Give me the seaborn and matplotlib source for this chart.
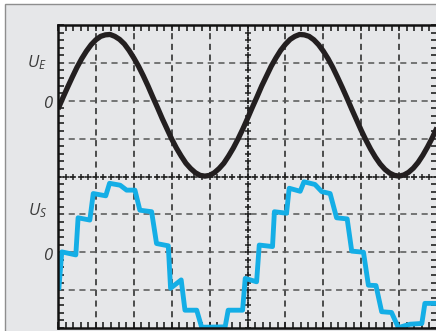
import numpy as np
import pandas as pd
import matplotlib
matplotlib.use("Agg")
import matplotlib.pyplot as plt
from matplotlib.patches import Rectangle
from matplotlib.ticker import MultipleLocator
import seaborn as sns

# screen grid: 10 x 8 divisions, x/y in divisions
# U_E read every 1/8 division
ue_x = np.arange(81) * 0.125
ue_y = [5.78, 6.07, 6.35, 6.62, 6.88, 7.11, 7.31, 7.48, 7.61, 7.70, 7.74, 7.75, 7.70, 7.62,
        7.50, 7.33, 7.13, 6.91, 6.66, 6.39, 6.10, 5.82, 5.53, 5.26, 4.99, 4.75, 4.54, 4.35,
        4.21, 4.10, 4.03, 4.01, 4.03, 4.10, 4.21, 4.35, 4.54, 4.75, 4.99, 5.25, 5.53, 5.82,
        6.10, 6.39, 6.65, 6.91, 7.13, 7.33, 7.49, 7.62, 7.70, 7.75, 7.74, 7.70, 7.61, 7.48,
        7.31, 7.11, 6.88, 6.62, 6.35, 6.07, 5.78, 5.50, 5.22, 4.96, 4.72, 4.51, 4.33, 4.19,
        4.09, 4.03, 4.01, 4.04, 4.11, 4.22, 4.37, 4.56, 4.78, 5.02, 5.29]

us_x = [0.02, 0.10, 0.47, 0.53, 0.84, 0.93, 1.26, 1.36, 1.64, 1.81, 2.03, 2.16, 2.47, 2.60,
        2.91, 2.97, 3.25, 3.35, 3.66, 3.79, 4.41, 4.49, 4.87, 4.94, 5.24, 5.31, 5.66, 5.71,
        6.03, 6.10, 6.39, 6.49, 6.78, 6.96, 7.18, 7.35, 7.63, 7.75, 8.06, 8.19, 8.39, 8.54,
        8.80, 8.98, 9.29, 9.60, 9.68, 10.0]
us_y = [1.00, 2.01, 1.93, 2.91, 2.85, 3.55, 3.49, 3.82, 3.77, 3.64, 3.64, 3.11, 3.07, 2.23,
        2.17, 1.05, 1.27, 0.47, 0.47, 0.02, 0.03, 0.47, 0.47, 1.31, 1.22, 2.19, 2.15, 3.07,
        3.03, 3.69, 3.61, 3.86, 3.79, 3.60, 3.55, 2.91, 2.88, 2.03, 2.00, 1.13, 1.12, 0.43,
        0.41, 0.01, 0.10, 0.12, 0.65, 0.65]

labels = [r"$U_E$", "0", r"$U_S$", "0"]
label_y = [6.89, 5.80, 2.98, 1.79]

sns.set_style("white")
plt.rcParams["mathtext.fontset"] = "custom"
plt.rcParams["mathtext.it"] = "Open Sans:italic"
plt.rcParams["mathtext.rm"] = "Open Sans"

bg = "#e6e7e9"
fig = plt.figure(figsize=(4.36, 3.31), dpi=100)
fig.patch.set_facecolor("white")
frame = Rectangle((5 / 436, -0.1), 1.2, (331 - 4) / 331 + 0.1, transform=fig.transFigure,
                  facecolor=bg, edgecolor="#8e8e8e", lw=1.0, zorder=-5)
fig.add_artist(frame)

ax = fig.add_axes([58 / 436, 3 / 331, 379 / 436, 303 / 331])
ax.set_zorder(2)
ax.set_facecolor(bg)
ax.set_xlim(0, 10)
ax.set_ylim(0, 8)

# dashed graticule
for x in range(1, 10):
    ax.axvline(x, color="#222222", lw=1.1, ls=(0, (4, 3)), zorder=1)
for y in range(1, 8):
    ax.axhline(y, color="#555555", lw=1.1, ls=(0, (4, 3)), zorder=1)
# centre axes with small crosses
ticks_x = np.arange(0, 10.01, 0.2)
ticks_y = np.arange(0, 8.01, 0.2)
ax.plot(ticks_x, np.full_like(ticks_x, 4), ls="none", marker="+", ms=5, mew=1.1, color="#222222", zorder=1)
ax.plot(np.full_like(ticks_y, 5), ticks_y, ls="none", marker="+", ms=5, mew=1.1, color="#222222", zorder=1)

ue = pd.DataFrame({"t": ue_x, "u": ue_y})
us = pd.DataFrame({"t": us_x, "u": us_y})
sns.lineplot(data=ue, x="t", y="u", ax=ax, color="#231f20", lw=3.8, sort=False, estimator=None,
             solid_joinstyle="round", solid_capstyle="butt", zorder=3)
sns.lineplot(data=us, x="t", y="u", ax=ax, color="#14aee6", lw=3.5, sort=False, estimator=None,
             solid_joinstyle="round", solid_capstyle="butt", zorder=3)

for lab, y in zip(labels, label_y):
    xr = -0.29 if lab.startswith("$") else -0.16
    ax.text(xr, y, lab, ha="right", va="baseline", fontsize=12, color="#3a3a3a",
            fontstyle="italic", family="Open Sans", clip_on=False)

ax.xaxis.set_major_locator(MultipleLocator(1))
ax.xaxis.set_minor_locator(MultipleLocator(0.2))
ax.yaxis.set_major_locator(MultipleLocator(1))
ax.yaxis.set_minor_locator(MultipleLocator(0.2))
ax.tick_params(which="both", direction="in", length=4, width=1.1, color="#111111",
               top=True, right=True, bottom=True, left=True,
               labelbottom=False, labelleft=False)
ax.set_xlabel("")
ax.set_ylabel("")
for s in ax.spines.values():
    s.set_color("#111111")
    s.set_linewidth(1.8)
    s.set_zorder(4)

fig.savefig("out.png", dpi=100)
